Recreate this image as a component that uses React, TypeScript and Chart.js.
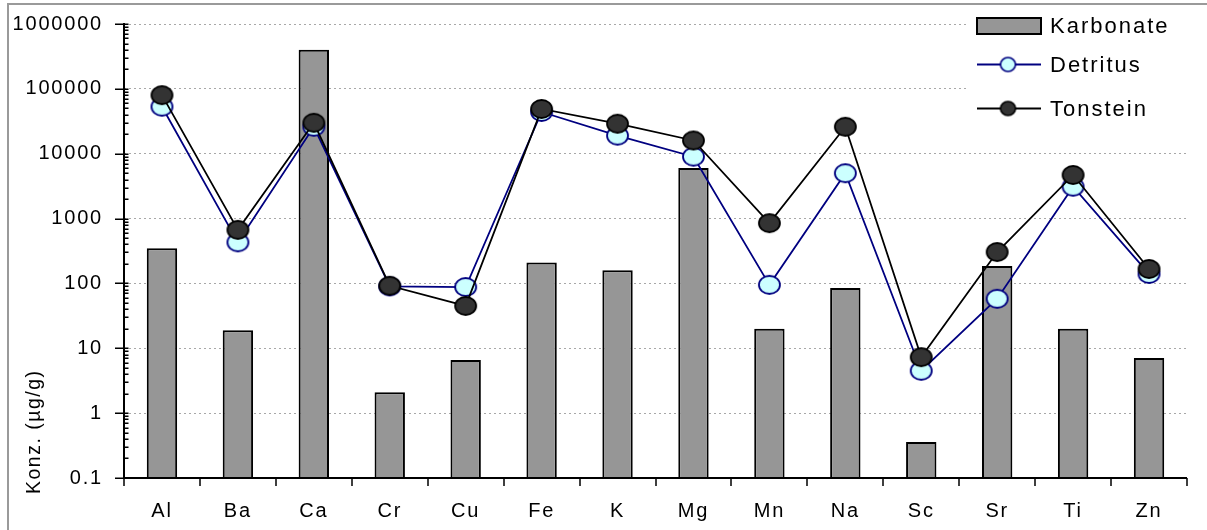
import React, { useEffect, useRef } from 'react';
import { Chart, registerables } from 'chart.js';

Chart.register(...registerables);

// Element categories on the x axis
const elements = ['Al', 'Ba', 'Ca', 'Cr', 'Cu', 'Fe', 'K', 'Mg', 'Mn', 'Na', 'Sc', 'Sr', 'Ti', 'Zn'];

// Concentrations in µg/g
const karbonate = [350, 19, 400000, 2.1, 6.6, 210, 160, 6000, 20, 85, 0.36, 185, 20, 7.1];
const detritus = [53000, 430, 26000, 90, 88, 44000, 19000, 9000, 95, 5000, 4.5, 58, 3100, 140];
const tonstein = [80000, 670, 30000, 92, 45, 49000, 29000, 16000, 850, 26000, 7.3, 305, 4700, 167];

const seriesNames = ['Karbonate', 'Detritus', 'Tonstein'];
const yTickValues = [0.1, 1, 10, 100, 1000, 10000, 100000, 1000000];
const yTickLabels = ['0.1', '1', '10', '100', '1000', '10000', '100000', '1000000'];
const yTitle = 'Konz. (µg/g)';

const FONT_FAMILY = '"Liberation Sans", Arial, Helvetica, sans-serif';
const TICK_SIZE = 20;
const TITLE_SIZE = 19.5;
const LEGEND_SIZE = 22;
const SPACING = '1.8px';

const PLOT_TOP = 24;
const BAR_FILL = '#969696';
const DET_LINE = '#000080';
const DET_FILL = '#ccffff';
const TON_FILL = '#333333';

function ellipseMarker(rx: number, ry: number, fill: string, stroke: string, lw: number) {
  const c = document.createElement('canvas');
  const w = Math.ceil(2 * rx + 2 * lw);
  const h = Math.ceil(2 * ry + 2 * lw);
  c.width = w;
  c.height = h;
  const g = c.getContext('2d')!;
  g.beginPath();
  g.ellipse(w / 2, h / 2, rx, ry, 0, 0, Math.PI * 2);
  g.fillStyle = fill;
  g.fill();
  g.lineWidth = lw;
  g.strokeStyle = stroke;
  g.stroke();
  return c;
}

const setSpacing = (chart: any) => {
  (chart.ctx as any).letterSpacing = SPACING;
};

export default function App() {
  const canvasRef = useRef<HTMLCanvasElement | null>(null);

  useEffect(() => {
    document.body.style.margin = '0';
    const canvas = canvasRef.current;
    if (!canvas) return;

    const detMarker = ellipseMarker(10.5, 9, DET_FILL, DET_LINE, 1.8);
    const tonMarker = ellipseMarker(10.5, 9, TON_FILL, '#000', 1.8);
    const detLegend = ellipseMarker(7.5, 7, DET_FILL, DET_LINE, 1.6);
    const tonLegend = ellipseMarker(7.5, 7, TON_FILL, '#000', 1.6);

    const decorations = {
      id: 'decorations',
      beforeUpdate: setSpacing,
      beforeLayout: setSpacing,
      beforeDraw(chart: any) {
        const ctx = chart.ctx;
        setSpacing(chart);
        ctx.save();
        ctx.fillStyle = '#fff';
        ctx.fillRect(0, 0, chart.width, chart.height);
        // outer frame
        ctx.strokeStyle = '#9a9a9a';
        ctx.lineWidth = 2;
        ctx.beginPath();
        ctx.moveTo(8, chart.height + 5);
        ctx.lineTo(8, 4);
        ctx.lineTo(chart.width + 5, 4);
        ctx.stroke();
        ctx.restore();
      },
      afterDatasetsDraw(chart: any) {
        const ctx = chart.ctx;
        const { left, right, bottom } = chart.chartArea;
        const y = chart.scales.y;
        const x = chart.scales.x;
        ctx.save();
        ctx.strokeStyle = '#000';
        ctx.lineWidth = 2;
        ctx.beginPath();
        // y axis line
        ctx.moveTo(left, y.getPixelForValue(1000000) - 1);
        ctx.lineTo(left, bottom);
        // x axis line
        ctx.moveTo(left, bottom);
        ctx.lineTo(right, bottom);
        ctx.stroke();

        ctx.lineWidth = 1.5;
        ctx.beginPath();
        // y ticks: majors cross the axis, minors point inward
        for (let e = -1; e <= 6; e++) {
          const py = Math.round(y.getPixelForValue(Math.pow(10, e))) + 0.25;
          ctx.moveTo(left - 9, py);
          ctx.lineTo(left + 4.5, py);
          if (e < 6) {
            for (let k = 2; k <= 9; k++) {
              const my = Math.round(y.getPixelForValue(k * Math.pow(10, e))) + 0.25;
              ctx.moveTo(left, my);
              ctx.lineTo(left + 4.5, my);
            }
          }
        }
        // x ticks between categories
        const n = elements.length;
        const step = (x.right - x.left) / n;
        for (let i = 0; i <= n; i++) {
          const px = Math.round(x.left + i * step);
          ctx.moveTo(px, bottom);
          ctx.lineTo(px, bottom + 8);
        }
        ctx.stroke();
        ctx.restore();
      },
      afterDraw(chart: any) {
        const ctx = chart.ctx;
        ctx.save();

        // y axis title
        (ctx as any).letterSpacing = '1.5px';
        ctx.fillStyle = '#000';
        ctx.font = `${TITLE_SIZE}px ${FONT_FAMILY}`;
        ctx.textAlign = 'left';
        ctx.textBaseline = 'alphabetic';
        ctx.translate(40, 494);
        ctx.rotate(-Math.PI / 2);
        ctx.fillText(yTitle, 0, 0);
        ctx.setTransform(1, 0, 0, 1, 0, 0);

        // legend
        (ctx as any).letterSpacing = '2px';
        ctx.fillStyle = '#fff';
        ctx.fillRect(968, 6, 239, 122);
        const lx0 = 977;
        const lx1 = 1041;
        const tx = 1050;
        ctx.font = `${LEGEND_SIZE}px ${FONT_FAMILY}`;
        ctx.textBaseline = 'middle';

        // Karbonate
        ctx.fillStyle = BAR_FILL;
        ctx.fillRect(lx0, 18, lx1 - lx0, 16);
        ctx.strokeStyle = '#000';
        ctx.lineWidth = 2;
        ctx.strokeRect(lx0, 18, lx1 - lx0, 16);
        ctx.fillStyle = '#000';
        ctx.fillText(seriesNames[0], tx, 27);

        // Detritus
        ctx.strokeStyle = DET_LINE;
        ctx.lineWidth = 1.8;
        ctx.beginPath();
        ctx.moveTo(lx0, 64.5);
        ctx.lineTo(lx1, 64.5);
        ctx.stroke();
        ctx.drawImage(detLegend, 1008 - detLegend.width / 2, 64.5 - detLegend.height / 2);
        ctx.fillStyle = '#000';
        ctx.fillText(seriesNames[1], tx, 66);

        // Tonstein
        ctx.strokeStyle = '#000';
        ctx.beginPath();
        ctx.moveTo(lx0, 108.5);
        ctx.lineTo(lx1, 108.5);
        ctx.stroke();
        ctx.drawImage(tonLegend, 1008 - tonLegend.width / 2, 108.5 - tonLegend.height / 2);
        ctx.fillStyle = '#000';
        ctx.fillText(seriesNames[2], tx, 110);

        ctx.restore();
      },
    };

    const tickFont = { family: FONT_FAMILY, size: TICK_SIZE };

    const chart = new Chart(canvas, {
      type: 'bar',
      data: {
        labels: elements,
        datasets: [
          {
            type: 'bar',
            label: seriesNames[0],
            data: karbonate,
            backgroundColor: BAR_FILL,
            borderColor: '#000',
            borderWidth: 2,
            barPercentage: 0.4,
            categoryPercentage: 1,
            order: 3,
          } as any,
          {
            type: 'line',
            label: seriesNames[1],
            data: detritus,
            borderColor: DET_LINE,
            borderWidth: 1.8,
            pointStyle: detMarker,
            pointRadius: 10,
            tension: 0,
            order: 2,
          } as any,
          {
            type: 'line',
            label: seriesNames[2],
            data: tonstein,
            borderColor: '#000',
            borderWidth: 1.8,
            pointStyle: tonMarker,
            pointRadius: 10,
            tension: 0,
            order: 1,
          } as any,
        ],
      },
      options: {
        animation: false,
        responsive: false,
        devicePixelRatio: 1,
        events: [],
        layout: { padding: { top: PLOT_TOP, right: 20, left: 0, bottom: 0 } },
        plugins: {
          legend: { display: false },
          tooltip: { enabled: false },
        },
        scales: {
          x: {
            type: 'category',
            offset: true,
            grid: { display: false, drawTicks: false },
            border: { display: false },
            ticks: {
              color: '#000',
              font: tickFont,
              padding: 21,
              maxRotation: 0,
              autoSkip: false,
            },
            afterFit(s: any) {
              s.height = 52;
            },
          },
          y: {
            type: 'logarithmic',
            min: 0.1,
            max: 1000000,
            grid: { color: '#a8a8a8', lineWidth: 1, drawTicks: false },
            border: { display: false, dash: [2, 3] },
            ticks: {
              color: '#000',
              font: tickFont,
              padding: 21,
              callback: (_v: any, i: number) => yTickLabels[i],
            },
            afterBuildTicks(s: any) {
              s.ticks = yTickValues.map((v) => ({ value: v }));
            },
            afterFit(s: any) {
              s.width = 124;
              s.paddingTop = 0;
              s.paddingBottom = 0;
            },
          },
        },
      } as any,
      plugins: [decorations as any],
    });

    // keep the plot area's top edge where intended
    const delta = chart.chartArea.top - PLOT_TOP;
    if (delta !== 0) {
      (chart.options as any).layout.padding.top = PLOT_TOP - delta;
      chart.update();
    }

    return () => {
      chart.destroy();
    };
  }, []);

  return (
    <div style={{ position: 'relative', width: 1207, height: 530, overflow: 'hidden' }}>
      <canvas ref={canvasRef} width={1207} height={530} style={{ display: 'block', width: 1207, height: 530 }} />
    </div>
  );
}
